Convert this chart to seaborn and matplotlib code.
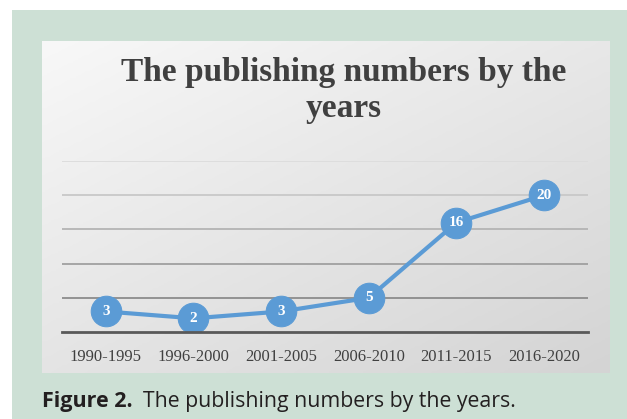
import numpy as np
import pandas as pd
import matplotlib.pyplot as plt
import seaborn as sns

# data
periods = ['1990-1995', '1996-2000', '2001-2005', '2006-2010', '2011-2015', '2016-2020']
counts = [3, 2, 3, 5, 16, 20]

df = pd.DataFrame({'period': periods, 'count': counts})

sns.set_style('white')

W, H = 627, 419
fig = plt.figure(figsize=(W / 100, H / 100), dpi=100)
fig.patch.set_facecolor('white')

# green frame
bg = fig.add_axes([12 / W, 0, 1 - 12 / W, 1 - 10 / H])
bg.set_facecolor('#cde0d5')
bg.set_xticks([])
bg.set_yticks([])
for s in bg.spines.values():
    s.set_visible(False)

# gray gradient panel
px0, px1, py0, py1 = 42, 610, 41, 373
panel = fig.add_axes([px0 / W, (H - py1) / H, (px1 - px0) / W, (py1 - py0) / H])
gx, gy = np.meshgrid(np.linspace(0, 1, 200), np.linspace(0, 1, 200))
g = 0.55 * gy + 0.45 * gx
panel.imshow(g, cmap=plt.matplotlib.colors.LinearSegmentedColormap.from_list('g', ['#f8f8f8', '#d4d4d4']),
             aspect='auto', extent=[0, 1, 1, 0], vmin=0, vmax=1)
panel.axis('off')

# title
fig.text(343.5 / W, 1 - 72 / H, 'The publishing numbers by the',
         ha='center', va='center', fontsize=24, fontweight='bold',
         family='Liberation Serif', color='#404040')
fig.text(343.5 / W, 1 - 108 / H, 'years', ha='center', va='center', fontsize=24,
         fontweight='bold', family='Liberation Serif', color='#404040')

# line chart
ax = fig.add_axes([62 / W, (H - 332) / H, 526 / W, 171 / H])
ax.patch.set_alpha(0)
sns.lineplot(data=df, x='period', y='count', ax=ax, color='#5b9bd5', linewidth=3,
             marker='o', markersize=22, markeredgecolor='#5b9bd5', sort=False)
for i, v in enumerate(counts):
    ax.text(i, v, str(v), ha='center', va='center', color='white', fontsize=11,
            fontweight='bold', family='Liberation Serif')

ax.set_xlim(-0.5, 5.5)
ax.set_ylim(0, 25)
ax.set_yticks([5, 10, 15, 20, 25])
ax.set_yticklabels([])
ax.tick_params(axis='y', length=0)
ax.tick_params(axis='x', length=0, pad=12)
ax.set_xlabel('')
ax.set_ylabel('')
for lab in ax.get_xticklabels():
    lab.set_family('Liberation Serif')
    lab.set_fontsize(12)
    lab.set_color('#404040')
for s in ['top', 'left', 'right']:
    ax.spines[s].set_visible(False)
ax.spines['bottom'].set_color('#595959')
ax.spines['bottom'].set_linewidth(2)
grid_cols = ['#8c8c8c', '#a0a0a0', '#b4b4b4', '#c8c8c8', '#dcdcdc']
for y, c in zip([5, 10, 15, 20, 25], grid_cols):
    ax.axhline(y, color=c, linewidth=1.3, zorder=0)

# caption
fig.text(42 / W, 1 - 401 / H, 'Figure 2.', ha='left', va='center', fontsize=15.5,
         fontweight='bold', family='Open Sans', color='#231f20')
fig.text(143 / W, 1 - 401 / H, 'The publishing numbers by the years.', ha='left',
         va='center', fontsize=15.3, family='Open Sans', color='#231f20')

fig.savefig('out.png', dpi=100)
